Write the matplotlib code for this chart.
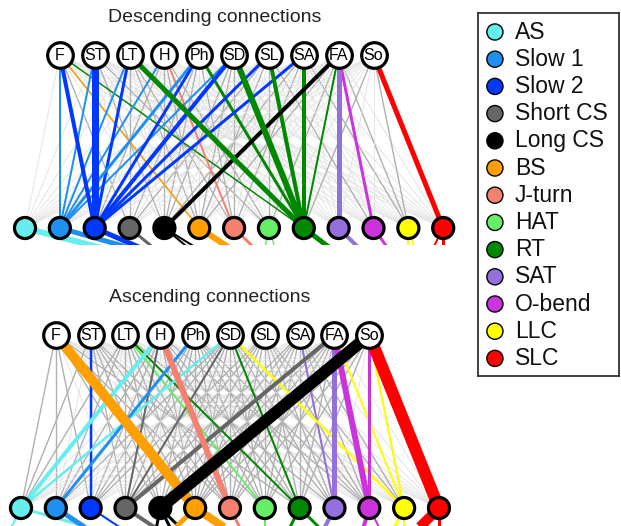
import matplotlib
matplotlib.use('Agg')
import matplotlib.pyplot as plt

plt.rcParams['font.family'] = ['Liberation Sans', 'DejaVu Sans']

# Nodes
top_labels = ['F', 'ST', 'LT', 'H', 'Ph', 'SD', 'SL', 'SA', 'FA', 'So']
bouts = ['AS', 'Slow 1', 'Slow 2', 'Short CS', 'Long CS', 'BS', 'J-turn',
         'HAT', 'RT', 'SAT', 'O-bend', 'LLC', 'SLC']
bout_colors = ['#66EEEE', '#2090F0', '#0038FF', '#666666', '#000000', '#FFA000',
               '#F58070', '#66EE66', '#008800', '#9370DB', '#CC33DD', '#FFFF00',
               '#FF0000']

# Grey background links: 0 none, 1 faint, 2 medium (rows = top nodes, cols = bouts)
desc_grey = ['1112121111111',
             '1111211211111',
             '1112122111111',
             '1121221211111',
             '1112212121111',
             '1121222121111',
             '1112121211211',
             '1111212121121',
             '1111121212121',
             '1111111121121']
asc_grey = ['2221212121111',
            '2122222211111',
            '2212222212111',
            '2222122221211',
            '1222222222211',
            '1222222222211',
            '1122222222221',
            '1112222222221',
            '1112222222211',
            '1111222221221']

# Strong links: (top node, bout, width in px)
desc_edges = [('F', 'Slow 1', 2), ('F', 'Slow 2', 4), ('F', 'BS', 1.5), ('F', 'RT', 1.5),
              ('ST', 'Slow 1', 2), ('ST', 'Slow 2', 7),
              ('LT', 'Slow 1', 2), ('LT', 'Slow 2', 3), ('LT', 'RT', 5),
              ('H', 'J-turn', 2), ('H', 'Slow 1', 2),
              ('Ph', 'Slow 1', 3), ('Ph', 'Slow 2', 3), ('Ph', 'RT', 3),
              ('SD', 'Slow 1', 2), ('SD', 'Slow 2', 4), ('SD', 'RT', 6),
              ('SL', 'Slow 2', 3), ('SL', 'RT', 4),
              ('SA', 'Slow 2', 3), ('SA', 'RT', 4),
              ('FA', 'RT', 2), ('FA', 'Long CS', 4), ('FA', 'SAT', 5), ('FA', 'O-bend', 3),
              ('So', 'SLC', 5)]
asc_edges = [('F', 'BS', 10), ('ST', 'Slow 2', 2.5),
             ('LT', 'HAT', 2), ('LT', 'RT', 2),
             ('H', 'AS', 4), ('H', 'Short CS', 2), ('H', 'J-turn', 6),
             ('Ph', 'Slow 1', 3),
             ('SD', 'AS', 2.5), ('SD', 'Short CS', 2), ('SD', 'RT', 2), ('SD', 'LLC', 2.5),
             ('SA', 'SAT', 2),
             ('FA', 'Short CS', 4), ('FA', 'SAT', 5), ('FA', 'O-bend', 6), ('FA', 'LLC', 2),
             ('So', 'Long CS', 12), ('So', 'O-bend', 3), ('So', 'LLC', 2), ('So', 'SLC', 12)]

# Links from bouts to the next (cropped) layer: (bout, target position, width in px)
desc_next = [('AS', 3.8, 6), ('Slow 1', 4.5, 5), ('Slow 2', 4.3, 5), ('Short CS', 4.2, 3),
             ('Long CS', 5.2, 2), ('Long CS', 5.6, 2), ('BS', 6.5, 6), ('J-turn', 7.0, 3),
             ('HAT', 6.8, 1.5), ('HAT', 7.3, 1.5), ('RT', 9.3, 5), ('SAT', 10.0, 4),
             ('O-bend', 10.7, 3), ('LLC', 11.0, 2), ('LLC', 11.3, 2), ('SLC', 11.5, 2),
             ('SLC', 12.0, 3)]
asc_next = [('AS', 3.5, 3), ('AS', -0.5, 2), ('Slow 1', 2.5, 5), ('Slow 2', 3.5, 2),
            ('Short CS', 4.5, 4), ('Long CS', 3.8, 3), ('Long CS', 4.5, 3), ('Long CS', 5.0, 3),
            ('BS', 6.5, 8), ('BS', 4.0, 5), ('J-turn', 6.5, 3), ('HAT', 7.0, 2),
            ('RT', 7.5, 3), ('RT', 9.0, 3), ('SAT', 8.5, 4), ('O-bend', 9.7, 4),
            ('O-bend', 10.5, 2), ('LLC', 10.5, 3), ('LLC', 11.0, 2), ('SLC', 11.0, 10),
            ('SLC', 12.0, 3)]

PX = 0.72  # px -> pt at 100 dpi
NEXT_Y = -0.2
grey_style = {1: ('#e0e0e0', 0.6), 2: ('#b0b0b0', 1.0)}


def draw_panel(ax, grey, edges, nxt, title):
    # grey background links
    for i, row in enumerate(grey):
        for j, g in enumerate(row):
            g = int(g)
            if g:
                c, lw = grey_style[g]
                ax.plot([i + 1, j], [1, 0], color=c, lw=lw, zorder=1)
    # links to next layer
    for b, t, w in nxt:
        j = bouts.index(b)
        ax.plot([j, t], [0, NEXT_Y], color=bout_colors[j], lw=w * PX,
                solid_capstyle='butt', zorder=2)
    # strong links, thin first
    for top, b, w in sorted(edges, key=lambda e: e[2]):
        i = top_labels.index(top)
        j = bouts.index(b)
        ax.plot([i + 1, j], [1, 0], color=bout_colors[j], lw=w * PX,
                solid_capstyle='butt', zorder=3)
    # top nodes
    ax.scatter(range(1, 11), [1] * 10, s=340, facecolor='white', edgecolor='black',
               linewidth=2.3, zorder=5)
    for i, lab in enumerate(top_labels):
        ax.text(i + 1, 1, lab, ha='center', va='center', fontsize=11.5, zorder=6)
    # bout nodes
    ax.scatter(range(len(bouts)), [0] * len(bouts), s=230, c=bout_colors,
               edgecolor='black', linewidth=2.3, zorder=5)
    ax.text(5.43, 1.215, title, ha='center', va='center', fontsize=14, color='#222222')
    ax.axis('off')


fig = plt.figure(figsize=(6.21, 5.26), dpi=100)
W, H = 621, 526

# top panel: pixel x 0..460, y 0..245
ax1 = fig.add_axes([0, 1 - 245 / H, 460 / W, 245 / H])
draw_panel(ax1, desc_grey, desc_edges, desc_next, 'Descending connections')
ax1.set_xlim((0 - 25) / 34.85, (460 - 25) / 34.85)
ax1.set_ylim(-17 / 173, 1 + 55 / 173)

# bottom panel: pixel x 0..460, y 250..526
ax2 = fig.add_axes([0, 0, 460 / W, 276 / H])
draw_panel(ax2, asc_grey, asc_edges, asc_next, 'Ascending connections')
ax2.set_xlim((0 - 21) / 34.83, (460 - 21) / 34.83)
ax2.set_ylim(-18 / 173, 1 + 85 / 173)

# legend box
axl = fig.add_axes([478 / W, 1 - 376 / H, 141 / W, 363 / H])
n = len(bouts)
axl.scatter([0.12] * n, range(n), s=135, c=bout_colors, edgecolor='black',
            linewidth=1.0, zorder=3)
for k, b in enumerate(bouts):
    axl.text(0.262, k, b, ha='left', va='center', fontsize=16.5, color='#111111')
axl.set_xlim(0, 1)
axl.set_ylim((376 - 32) / 27.2, (13 - 32) / 27.2)
axl.set_xticks([])
axl.set_yticks([])
for s in axl.spines.values():
    s.set_linewidth(1.3)
    s.set_color('#333333')

fig.savefig('out.png', dpi=100)
